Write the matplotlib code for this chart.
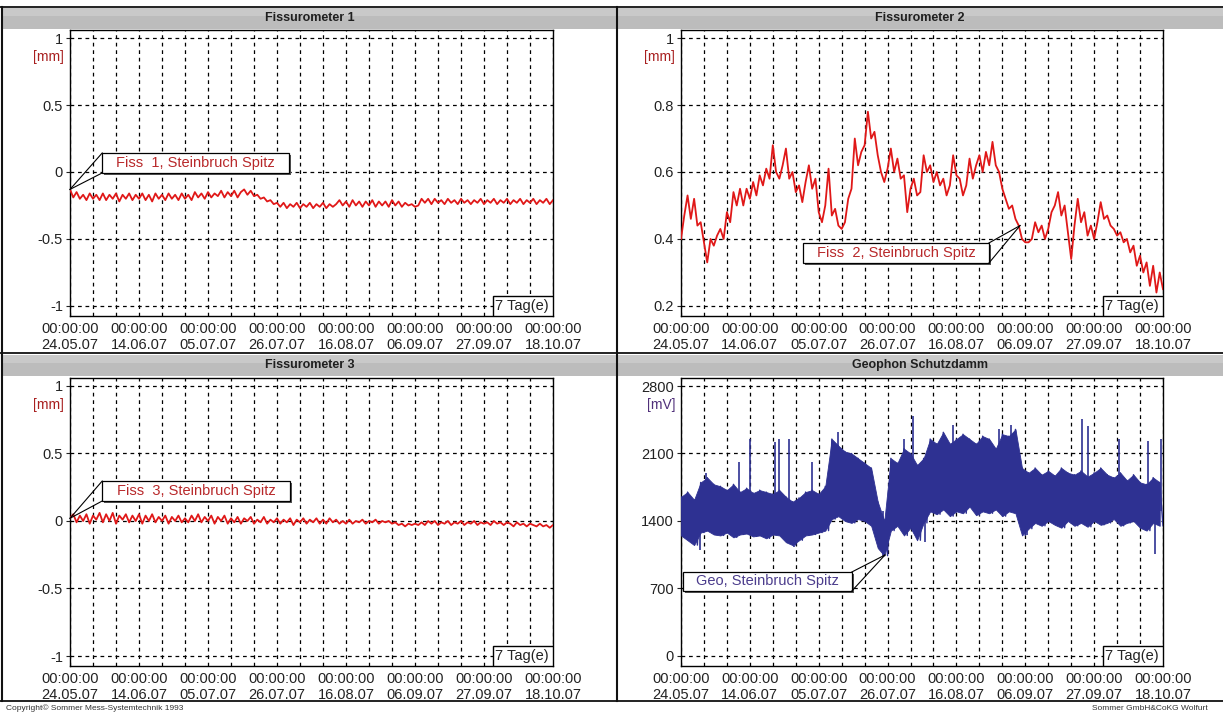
import numpy as np
import matplotlib
matplotlib.use('Agg')
import matplotlib.pyplot as plt
from matplotlib.patches import Rectangle
from matplotlib import transforms

plt.rcParams['font.family'] = ['Liberation Sans', 'DejaVu Sans']

# x axis: days since 24.05.07 00:00, ticks every 3 weeks
tick_dates = ['24.05.07', '14.06.07', '05.07.07', '26.07.07',
              '16.08.07', '06.09.07', '27.09.07', '18.10.07']
tick_time = '00:00:00'

# Fissurometer 1 [mm], one reading per day
fiss1 = [
    -0.13, -0.19, -0.15, -0.20, -0.17, -0.21, -0.16, -0.20, -0.17, -0.21,
    -0.16, -0.21, -0.17, -0.20, -0.16, -0.22, -0.17, -0.20, -0.16, -0.21,
    -0.17, -0.20, -0.16, -0.21, -0.17, -0.22, -0.16, -0.20, -0.17, -0.21,
    -0.16, -0.20, -0.17, -0.21, -0.16, -0.20, -0.17, -0.21, -0.15, -0.19,
    -0.16, -0.20, -0.15, -0.19, -0.16, -0.18, -0.14, -0.19, -0.15, -0.18,
    -0.14, -0.19, -0.15, -0.13, -0.17, -0.14, -0.18, -0.17, -0.20, -0.19,
    -0.22, -0.21, -0.24, -0.23, -0.26, -0.23, -0.27, -0.24, -0.26, -0.23,
    -0.27, -0.24, -0.26, -0.23, -0.27, -0.24, -0.26, -0.23, -0.27, -0.24,
    -0.26, -0.24, -0.21, -0.25, -0.22, -0.26, -0.21, -0.25, -0.22, -0.26,
    -0.22, -0.25, -0.21, -0.26, -0.22, -0.25, -0.22, -0.26, -0.21, -0.25,
    -0.22, -0.26, -0.23, -0.25, -0.24, -0.26, -0.25, -0.20, -0.23, -0.20,
    -0.24, -0.20, -0.23, -0.21, -0.24, -0.20, -0.23, -0.21, -0.24, -0.20,
    -0.23, -0.21, -0.24, -0.21, -0.23, -0.20, -0.24, -0.21, -0.23, -0.20,
    -0.24, -0.21, -0.23, -0.20, -0.24, -0.21, -0.23, -0.20, -0.24, -0.21,
    -0.23, -0.20, -0.24, -0.21, -0.23, -0.20, -0.24, -0.21]

# Fissurometer 2 [mm]
fiss2 = [
    0.40, 0.47, 0.53, 0.46, 0.52, 0.44, 0.45, 0.39, 0.33, 0.40,
    0.38, 0.41, 0.43, 0.40, 0.48, 0.45, 0.54, 0.50, 0.55, 0.50,
    0.55, 0.52, 0.57, 0.53, 0.59, 0.56, 0.61, 0.58, 0.68, 0.60,
    0.58, 0.62, 0.67, 0.58, 0.60, 0.54, 0.56, 0.51, 0.57, 0.62,
    0.55, 0.58, 0.48, 0.45, 0.50, 0.61, 0.47, 0.49, 0.44, 0.43,
    0.45, 0.52, 0.55, 0.70, 0.62, 0.66, 0.68, 0.78, 0.70, 0.72,
    0.65, 0.60, 0.57, 0.61, 0.67, 0.60, 0.64, 0.58, 0.59, 0.48,
    0.55, 0.58, 0.53, 0.54, 0.65, 0.60, 0.62, 0.57, 0.60, 0.56,
    0.58, 0.53, 0.56, 0.65, 0.59, 0.58, 0.53, 0.56, 0.64, 0.58,
    0.62, 0.65, 0.60, 0.66, 0.62, 0.69, 0.62, 0.60, 0.55, 0.52,
    0.49, 0.50, 0.46, 0.44, 0.40, 0.39, 0.39, 0.40, 0.45, 0.42,
    0.44, 0.40, 0.43, 0.48, 0.50, 0.54, 0.47, 0.50, 0.42, 0.34,
    0.44, 0.52, 0.45, 0.48, 0.41, 0.44, 0.40, 0.45, 0.51, 0.46,
    0.47, 0.44, 0.43, 0.41, 0.42, 0.39, 0.40, 0.36, 0.38, 0.32,
    0.35, 0.30, 0.33, 0.26, 0.32, 0.24, 0.30, 0.25]

# Fissurometer 3 [mm]
fiss3 = [
    0.02, 0.05, -0.01, 0.04, 0.00, 0.05, -0.02, 0.04, 0.01, 0.06,
    -0.01, 0.05, 0.00, 0.06, -0.02, 0.04, 0.01, 0.05, -0.01, 0.04,
    0.00, 0.05, -0.02, 0.04, 0.00, 0.05, -0.01, 0.03, 0.00, 0.04,
    -0.02, 0.03, 0.00, 0.04, -0.01, 0.02, -0.01, 0.04, 0.00, 0.05,
    -0.01, 0.03, 0.00, 0.04, -0.02, 0.03, 0.00, 0.04, -0.02, 0.02,
    -0.01, 0.03, -0.02, 0.02, 0.00, 0.03, -0.02, 0.01, -0.01, 0.03,
    -0.02, 0.01, -0.01, 0.02, -0.02, 0.01, -0.01, 0.02, -0.03, 0.01,
    -0.01, 0.02, -0.02, 0.01, -0.01, 0.02, -0.02, 0.01, -0.02, 0.02,
    -0.01, 0.01, -0.02, 0.00, -0.02, 0.01, -0.02, 0.00, -0.01, 0.01,
    -0.02, 0.00, -0.01, 0.01, -0.02, 0.00, -0.01, 0.00, -0.02, -0.01,
    -0.03, -0.02, -0.04, -0.02, -0.03, -0.02, -0.03, -0.01, -0.03, 0.00,
    -0.02, 0.00, -0.03, -0.01, -0.02, 0.00, -0.03, -0.01, -0.02, 0.00,
    -0.03, -0.01, -0.02, 0.00, -0.03, -0.01, -0.02, -0.01, -0.03, 0.00,
    -0.02, -0.01, -0.03, -0.01, -0.02, -0.04, -0.01, -0.03, -0.02, -0.04,
    -0.02, -0.03, -0.04, -0.02, -0.04, -0.03, -0.05, -0.03]

# Geophone [mV]: upper / lower envelope every 2 days
geo_hi = [1650, 1700, 1620, 1800, 1850, 1780, 1760, 1720, 1780, 1700,
          1740, 1690, 1720, 1700, 1680, 1720, 1650, 1600, 1640, 1700,
          1720, 1680, 1760, 2250, 2180, 2120, 2100, 2050, 2000, 1950,
          1600, 1400, 2050, 2000, 2150, 2100, 1980, 2050, 2250, 2200,
          2320, 2200, 2250, 2300, 2250, 2200, 2280, 2250, 2150, 2300,
          2280, 2350, 1950, 1900, 1950, 1880, 1920, 1870, 1950, 1900,
          1880, 1920, 1860, 1900, 1950, 1880, 1850, 1900, 1820, 1880,
          1800, 1780, 1850, 1800]
geo_lo = [1250, 1200, 1150, 1280, 1300, 1260, 1250, 1280, 1230, 1260,
          1270, 1240, 1250, 1220, 1260, 1250, 1180, 1150, 1200, 1250,
          1260, 1280, 1300, 1420, 1450, 1400, 1380, 1420, 1400, 1350,
          1120, 1040, 1300, 1350, 1250, 1330, 1200, 1380, 1500, 1470,
          1520, 1450, 1500, 1480, 1550, 1460, 1500, 1480, 1520, 1450,
          1500, 1480, 1250, 1320, 1380, 1350, 1400, 1360, 1330, 1400,
          1350, 1380, 1340, 1400, 1360, 1380, 1420, 1350, 1380, 1400,
          1330, 1300, 1380, 1350]
# single spikes above / below the band
spike_day = [7.6, 17.6, 21, 28.7, 30, 32.8, 39.8, 48, 68, 70.9,
             83, 97, 100.7, 122.4, 124, 133.5, 142.3, 146.4]
spike_top = [1900, 2010, 2250, 2215, 2250, 2250, 2010, 2320, 2250, 2490,
             2400, 2350, 2400, 2460, 2390, 2250, 2230, 2250]
dip_day = [5.9, 34.6, 61.5, 74.4, 105.4, 144.6]
dip_bottom = [1100, 1130, 1040, 1180, 1250, 1060]

W, H = 1223, 713
RED = '#e01818'
BLUE = '#2e3192'


def fx(x):
    return x / W


def fy(y):
    return 1 - y / H


fig = plt.figure(figsize=(W / 100, H / 100), dpi=100)
fig.patch.set_facecolor('white')

# grey title bars
titles = ['Fissurometer 1', 'Fissurometer 2', 'Fissurometer 3', 'Geophon Schutzdamm']
bars = [(2, 617, 8), (617, 1223, 8), (2, 617, 355), (617, 1223, 355)]
for (x0, x1, y0), title in zip(bars, titles):
    fig.add_artist(Rectangle((fx(x0), fy(y0 + 21)), fx(x1 - x0), 21 / H,
                             transform=fig.transFigure, facecolor='#bcbcbc',
                             edgecolor='none'))
    fig.add_artist(Rectangle((fx(x0), fy(y0 + 8)), fx(x1 - x0), 8 / H,
                             transform=fig.transFigure, facecolor='#c9c9c9',
                             edgecolor='none'))
    fig.text(fx((x0 + x1) / 2), fy(y0 + 10), title, ha='center', va='center',
             fontsize=9, fontweight='bold', color='#202020')

# panel frames
for y in (7, 353, 701):
    fig.add_artist(plt.Line2D([0, 1], [fy(y), fy(y)], color='#111111', lw=1.3,
                              transform=fig.transFigure))
for x in (2, 617):
    fig.add_artist(plt.Line2D([fx(x), fx(x)], [fy(7), fy(701)], color='#111111',
                              lw=1.5, transform=fig.transFigure))


def panel(rect, ylim, yticks, ylabels, unit, ucolor):
    ax = fig.add_axes(rect)
    ax.set_xlim(0, 147)
    ax.set_ylim(*ylim)
    ax.set_xticks(np.arange(0, 148, 21))
    ax.set_xticklabels([tick_time + '\n' + d for d in tick_dates])
    ax.set_xticks(np.arange(0, 148, 7), minor=True)
    ax.set_yticks(yticks)
    ax.set_yticklabels(ylabels)
    ax.tick_params(axis='x', which='both', length=0, pad=4, labelsize=10.5,
                   colors='#222222')
    ax.tick_params(axis='y', length=3, pad=2, labelsize=10.5, colors='#222222')
    ax.set_axisbelow(True)
    ax.grid(True, which='both', axis='x', color='k', lw=0.9, ls=(0, (3, 3)))
    ax.grid(True, which='major', axis='y', color='k', lw=0.9, ls=(0, (3, 3)))
    for s in ax.spines.values():
        s.set_linewidth(1.0)
    ax.text(-0.012, 0.905, unit, transform=ax.transAxes, ha='right',
            va='center', fontsize=10, color=ucolor)
    # "7 Tag(e)" scale box
    bw, bh = 60 / (rect[2] * W), 20 / (rect[3] * H)
    ax.add_patch(Rectangle((1 - bw, 0), bw, bh, transform=ax.transAxes,
                           facecolor='white', edgecolor='k', lw=1, zorder=5))
    ax.text(1 - bw + 0.004, bh / 2, '7 Tag(e)', transform=ax.transAxes,
            ha='left', va='center', fontsize=10.5, color='#222222', zorder=6)
    return ax


def callout(ax, box, anchor, corners, text, tcolor):
    x0, y0, x1, y1 = box
    shadow = transforms.offset_copy(ax.transData, fig=fig, x=2, y=-2, units='dots')
    ax.add_patch(Rectangle((x0, y0), x1 - x0, y1 - y0, transform=shadow,
                           facecolor='#555555', edgecolor='none', zorder=7))
    ax.add_patch(Rectangle((x0, y0), x1 - x0, y1 - y0, facecolor='white',
                           edgecolor='k', lw=0.9, zorder=8))
    for cx, cy in corners:
        ax.plot([anchor[0], cx], [anchor[1], cy], color='k', lw=0.8,
                zorder=8, clip_on=False)
    ax.text((x0 + x1) / 2, (y0 + y1) / 2, text, ha='center', va='center',
            fontsize=10.5, color=tcolor, zorder=9)


days = np.arange(len(fiss1))
geo_days = np.arange(0, 148, 2)

top_y, top_h = fy(316), 286 / H
bot_y, bot_h = fy(666), 288 / H
lw_line = 1.3

ax1 = panel([fx(70), top_y, 483 / W, top_h], (-1.075, 1.06),
            [-1, -0.5, 0, 0.5, 1], ['-1', '-0.5', '0', '0.5', '1'], '[mm]', '#a82020')
ax1.plot(days, fiss1, color=RED, lw=lw_line, zorder=3)
callout(ax1, (9.8, -0.007, 66.5, 0.142), (0, -0.13),
        [(9.8, 0.142), (9.8, -0.007)], 'Fiss  1, Steinbruch Spitz', '#b8282a')

ax2 = panel([fx(681), top_y, 482 / W, top_h], (0.17, 1.024),
            [0.2, 0.4, 0.6, 0.8, 1], ['0.2', '0.4', '0.6', '0.8', '1'], '[mm]', '#a82020')
ax2.plot(np.arange(len(fiss2)), fiss2, color=RED, lw=lw_line, zorder=3)
callout(ax2, (37.2, 0.328, 93.9, 0.388), (103.4, 0.44),
        [(93.9, 0.388), (93.9, 0.328)], 'Fiss  2, Steinbruch Spitz', '#b8282a')

ax3 = panel([fx(70), bot_y, 483 / W, bot_h], (-1.074, 1.059),
            [-1, -0.5, 0, 0.5, 1], ['-1', '-0.5', '0', '0.5', '1'], '[mm]', '#a82020')
ax3.plot(np.arange(len(fiss3)), fiss3, color=RED, lw=lw_line, zorder=3)
callout(ax3, (9.8, 0.148, 67.1, 0.296), (0, 0.02),
        [(9.8, 0.296), (9.8, 0.148)], 'Fiss  3, Steinbruch Spitz', '#b8282a')

ax4 = panel([fx(681), bot_y, 482 / W, bot_h], (-104, 2883),
            [0, 700, 1400, 2100, 2800], ['0', '700', '1400', '2100', '2800'], '[mV]', '#50307a')
ax4.fill_between(geo_days, geo_lo, geo_hi, color=BLUE, lw=0.6, zorder=3)
# zig-zag between the envelope readings gives the ragged edge of the band
zig_x = np.column_stack([geo_days, geo_days + 1]).ravel()
zig_y = np.column_stack([geo_hi, geo_lo]).ravel()
ax4.plot(zig_x, zig_y, color=BLUE, lw=1.0, zorder=3)
ax4.vlines(spike_day, 1500, spike_top, color=BLUE, lw=1.2, zorder=3)
ax4.vlines(dip_day, dip_bottom, 1500, color=BLUE, lw=1.2, zorder=3)
callout(ax4, (0.6, 674, 52.1, 871), (62.2, 1047),
        [(52.1, 871), (52.1, 674)], 'Geo, Steinbruch Spitz', '#4b3c8c')

fig.text(fx(6), fy(708), 'Copyright\u00a9 Sommer Mess-Systemtechnik 1993',
         fontsize=6, ha='left', va='center', color='#333333')
fig.text(fx(1092), fy(708), 'Sommer GmbH&CoKG Wolfurt', fontsize=6,
         ha='left', va='center', color='#333333')

fig.savefig('out.png', dpi=100)
